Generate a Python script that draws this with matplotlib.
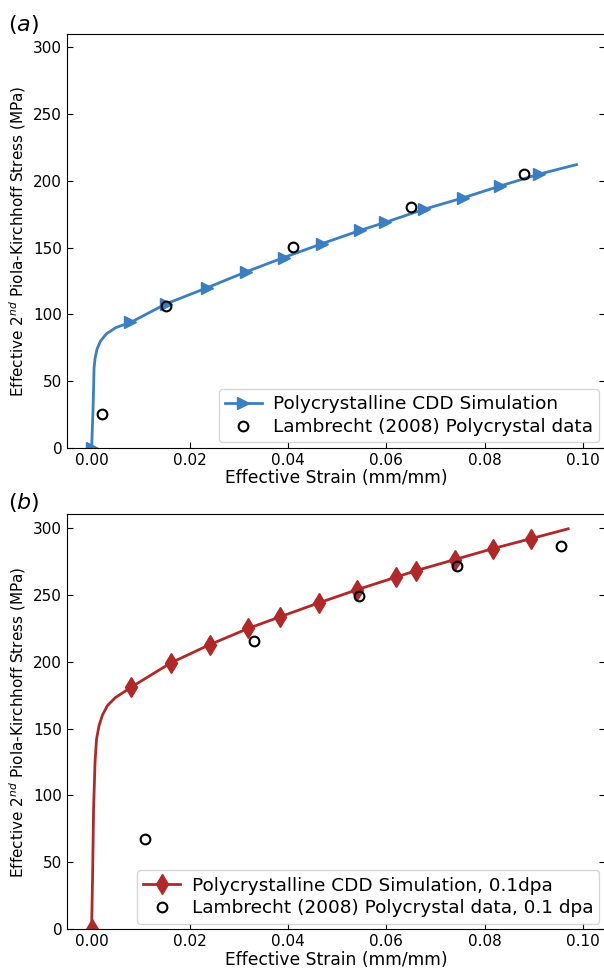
import matplotlib
matplotlib.use("Agg")
import matplotlib.pyplot as plt

# Panel (a) data
sim_a_x = [0.0, 0.0003, 0.0005, 0.0007, 0.0011, 0.0018, 0.0030, 0.0050, 0.0079,
           0.0152, 0.0235, 0.0315, 0.0391, 0.0469, 0.0547, 0.0598, 0.0677,
           0.0755, 0.0832, 0.0910, 0.0987]
sim_a_y = [0, 30, 60, 67, 74, 80, 85.5, 90.3, 94,
           108, 120, 132, 142.6, 153, 163, 169, 178.8,
           187.2, 196.2, 205, 212.2]
sim_a_markers = [0, 8, 9, 10, 11, 12, 13, 14, 15, 16, 17, 18, 19]
exp_a_x = [0.0022, 0.0152, 0.0410, 0.0651, 0.0880]
exp_a_y = [25.2, 106.2, 150.6, 180.5, 205.5]

# Panel (b) data
sim_b_x = [0.0, 0.0002, 0.0004, 0.0007, 0.0010, 0.0015, 0.0022, 0.0032, 0.0048,
           0.0081, 0.0161, 0.0240, 0.0319, 0.0383, 0.0462, 0.0541, 0.0619,
           0.0661, 0.0739, 0.0817, 0.0895, 0.0970]
sim_b_y = [0, 40, 90, 125, 142, 152, 160, 167, 173,
           181, 199, 212.6, 224.8, 233.4, 243.8, 253.8, 263,
           268, 276.2, 284.4, 291.9, 299.2]
sim_b_markers = [0, 9, 10, 11, 12, 13, 14, 15, 16, 17, 18, 19, 20]
exp_b_x = [0.0108, 0.0330, 0.0544, 0.0743, 0.0956]
exp_b_y = [67.5, 215.1, 248.8, 271.7, 286.2]

labels_a = ["Polycrystalline CDD Simulation", "Lambrecht (2008) Polycrystal data"]
labels_b = ["Polycrystalline CDD Simulation, 0.1dpa",
            "Lambrecht (2008) Polycrystal data, 0.1 dpa"]
panel_tags = [r"($\mathit{a}$)", r"($\mathit{b}$)"]

xlabel = "Effective Strain (mm/mm)"
ylabel = r"Effective 2$^{nd}$ Piola-Kirchhoff Stress (MPa)"
xticks = [0.00, 0.02, 0.04, 0.06, 0.08, 0.10]
yticks = [0, 50, 100, 150, 200, 250, 300]

blue = "#3a7fc1"
red = "#b02828"

fig = plt.figure(figsize=(6.04, 9.71), dpi=100)
ax_a = fig.add_axes([0.111, 0.5386, 0.8907, 0.4264])
ax_b = fig.add_axes([0.111, 0.0429, 0.8907, 0.4274])

panels = [
    (ax_a, sim_a_x, sim_a_y, sim_a_markers, ">", 8, blue, exp_a_x, exp_a_y, labels_a, panel_tags[0], 0.9676),
    (ax_b, sim_b_x, sim_b_y, sim_b_markers, "d", 10, red, exp_b_x, exp_b_y, labels_b, panel_tags[1], 0.4755),
]

for ax, sx, sy, mk, marker, ms, col, ex, ey, labs, tag, ty in panels:
    ax.plot(sx, sy, color=col, lw=2, marker=marker, markersize=ms,
            markevery=mk, label=labs[0])
    ax.plot(ex, ey, ls="none", marker="o", markersize=7, markerfacecolor="none",
            markeredgecolor="black", markeredgewidth=1.5, label=labs[1])
    ax.set_xlim(-0.005, 0.1045)
    ax.set_ylim(0, 310)
    ax.set_xticks(xticks)
    ax.set_yticks(yticks)
    ax.set_xticklabels([f"{v:.2f}" for v in xticks])
    ax.tick_params(direction="in", right=True, labelsize=11, length=4)
    ax.set_xlabel(xlabel, fontsize=12.3, labelpad=1)
    ax.set_ylabel(ylabel, fontsize=11, labelpad=4)
    ax.legend(loc="lower right", fontsize=13.3, borderaxespad=0.3,
              handletextpad=0.6, labelspacing=0.25, borderpad=0.35)
    fig.text(0.013, ty, tag, fontsize=16, va="baseline", ha="left")

fig.savefig("out.png", dpi=100)
